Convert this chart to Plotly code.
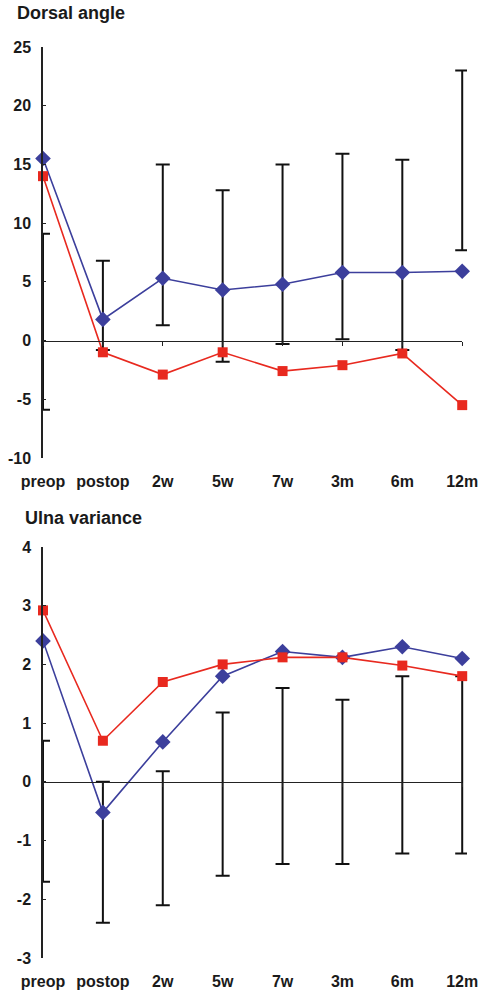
import plotly.graph_objects as go

categories = ["preop", "postop", "2w", "5w", "7w", "3m", "6m", "12m"]

# Dorsal angle
dorsal_blue = [15.5, 1.8, 5.3, 4.3, 4.8, 5.8, 5.8, 5.9]
dorsal_red = [14.0, -1.0, -2.9, -1.0, -2.6, -2.1, -1.1, -5.5]
dorsal_err_low = [-5.9, -0.8, 1.3, -1.8, -0.3, 0.1, -0.8, 7.7]
dorsal_err_high = [9.1, 6.8, 15.0, 12.8, 15.0, 15.9, 15.4, 23.0]
dorsal_ticks = [-10, -5, 0, 5, 10, 15, 20, 25]
dorsal_ticktext = ["-10", "-5", "0", "5", "10", "15", "20", "25"]

# Ulna variance
ulna_blue = [2.4, -0.52, 0.68, 1.8, 2.22, 2.12, 2.3, 2.1]
ulna_red = [2.92, 0.7, 1.7, 2.0, 2.12, 2.12, 1.98, 1.8]
ulna_err_low = [-1.7, -2.4, -2.1, -1.6, -1.4, -1.4, -1.22, -1.22]
ulna_err_high = [0.7, 0.0, 0.18, 1.18, 1.6, 1.4, 1.8, 1.8]
ulna_ticks = [-3, -2, -1, 0, 1, 2, 3, 4]
ulna_ticktext = ["-3", "-2", "-1", "0", "1", "2", "3", "4"]

BLUE = "#3c3f9c"
RED = "#e8291f"
FONT = "Liberation Sans"
xs = list(range(len(categories)))
XMAX = 7.08  # small pad so the last error bar is not clipped

fig = go.Figure()


def add_panel(xa, ya, blue, red, lo, hi):
    mid = [(a + b) / 2 for a, b in zip(lo, hi)]
    half = [(b - a) / 2 for a, b in zip(lo, hi)]
    fig.add_trace(go.Scatter(
        x=xs, y=mid, mode="markers", xaxis=xa, yaxis=ya,
        marker=dict(size=1, opacity=0), showlegend=False, cliponaxis=False,
        error_y=dict(type="data", array=half, symmetric=True, color="#111111",
                     thickness=2, width=7),
        hoverinfo="skip"))
    fig.add_trace(go.Scatter(
        x=xs, y=blue, mode="lines+markers", xaxis=xa, yaxis=ya,
        line=dict(color=BLUE, width=1.6),
        marker=dict(symbol="diamond", size=12, color=BLUE),
        showlegend=False, cliponaxis=False))
    fig.add_trace(go.Scatter(
        x=xs, y=red, mode="lines+markers", xaxis=xa, yaxis=ya,
        line=dict(color=RED, width=1.6),
        marker=dict(symbol="square", size=10, color=RED),
        showlegend=False, cliponaxis=False))


add_panel("x", "y", dorsal_blue, dorsal_red, dorsal_err_low, dorsal_err_high)
add_panel("x2", "y2", ulna_blue, ulna_red, ulna_err_low, ulna_err_high)

top_dom = [0.5489, 1.0]
bot_dom = [0.0, 0.4512]
top_range = [-10, 25]
bot_range = [-3, 4]


def zero_pos(dom, rng):
    return dom[0] + (0 - rng[0]) / (rng[1] - rng[0]) * (dom[1] - dom[0])


tickfont = dict(family=FONT, size=16, color="#1a1a1a", weight="bold")
xcommon = dict(range=[0, XMAX], tickmode="array", tickvals=xs, ticktext=categories,
               showline=False, ticks="", showgrid=False, zeroline=False,
               tickfont=tickfont, ticklabelstandoff=12, automargin=False)
ycommon = dict(showline=True, linecolor="#222222", linewidth=1.5, ticks="inside",
               ticklen=3, tickcolor="#222222", showgrid=False, zeroline=False,
               tickfont=tickfont, ticklabelstandoff=7, automargin=False,
               tickmode="array")
zcommon = dict(range=[0, 7], domain=[0, 7 / XMAX], tickmode="array", tickvals=xs,
               showticklabels=False, showline=True, linecolor="#222222", linewidth=1.2,
               ticks="outside", ticklen=4, tickcolor="#222222", showgrid=False,
               zeroline=False, anchor="free", automargin=False)

fig.update_layout(
    width=488, height=993,
    margin=dict(l=43, r=21, t=47, b=35),
    paper_bgcolor="white", plot_bgcolor="rgba(0,0,0,0)",
    xaxis=dict(anchor="y", domain=[0, 1], **xcommon),
    yaxis=dict(anchor="x", domain=top_dom, range=top_range, tickvals=dorsal_ticks,
               ticktext=dorsal_ticktext, **ycommon),
    xaxis2=dict(anchor="y2", domain=[0, 1], **xcommon),
    yaxis2=dict(anchor="x2", domain=bot_dom, range=bot_range, tickvals=ulna_ticks,
                ticktext=ulna_ticktext, **ycommon),
    xaxis3=dict(position=zero_pos(top_dom, top_range), **zcommon),
    xaxis4=dict(position=zero_pos(bot_dom, bot_range), **zcommon),
    annotations=[
        dict(text="<b>Dorsal angle</b>", xref="paper", yref="paper", x=-0.067, y=1.037,
             xanchor="left", yanchor="middle", showarrow=False,
             font=dict(family=FONT, size=18, color="#1a1a1a")),
        dict(text="<b>Ulna variance</b>", xref="paper", yref="paper", x=-0.048, y=0.483,
             xanchor="left", yanchor="middle", showarrow=False,
             font=dict(family=FONT, size=18, color="#1a1a1a")),
    ],
)

# invisible traces that carry the zero-line axes (added first so they sit underneath)
zero_traces = [
    go.Scatter(x=[0], y=[0], xaxis="x3", yaxis="y", mode="markers",
               marker=dict(opacity=0), showlegend=False, hoverinfo="skip"),
    go.Scatter(x=[0], y=[0], xaxis="x4", yaxis="y2", mode="markers",
               marker=dict(opacity=0), showlegend=False, hoverinfo="skip"),
]
fig.add_traces(zero_traces)

fig.write_html("out.html", config={"displayModeBar": False},
               post_script="document.body.style.margin='0';document.body.style.overflow='hidden';")
